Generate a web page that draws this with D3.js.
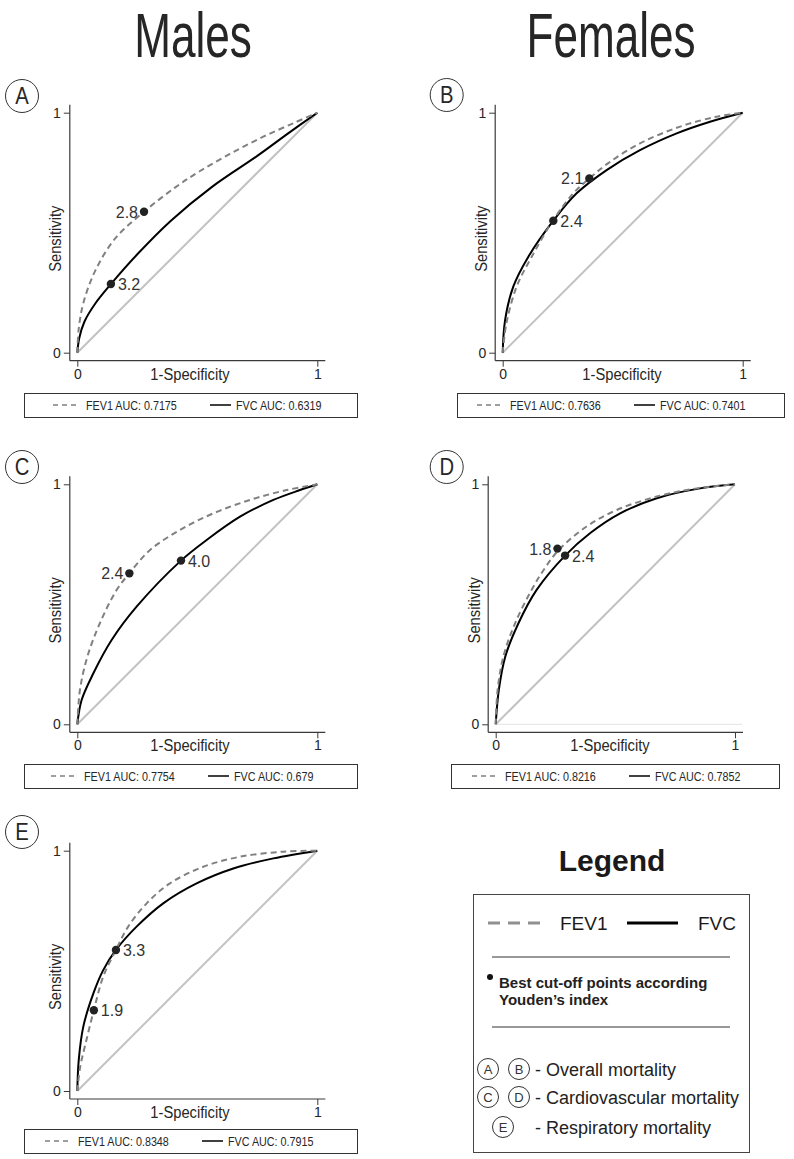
<!DOCTYPE html>
<html><head><meta charset="utf-8">
<script src="https://cdn.jsdelivr.net/npm/d3@7"></script>
<style>
body{margin:0;background:#fff}
svg{display:block}
text{font-family:"Liberation Sans",Arial,Helvetica,sans-serif}
</style>
</head><body>
<svg id="chart" width="794" height="1159"></svg>
<script>
// ---------------- DATA ----------------
const panelIds = ["A", "B", "C", "D", "E"];
const groupTitles = ["Males", "Females"];
const axisTicks = [0, 1];
const xAxisTitle = "1-Specificity";
const yAxisTitle = "Sensitivity";
const seriesNames = ["FEV1", "FVC"];
const aucFEV1 = ["0.7175", "0.7636", "0.7754", "0.8216", "0.8348"];
const aucFVC = ["0.6319", "0.7401", "0.679", "0.7852", "0.7915"];

// ROC curves [1-specificity, sensitivity]
const fev1A = [[0,0],[0.006,0.1],[0.025,0.206],[0.074,0.34],[0.157,0.475],[0.278,0.5875],[0.41,0.69],[0.51,0.756],[0.636,0.828],[0.775,0.9],[0.9,0.956],[1,1]];
const fvcA  = [[0,0],[0.008,0.06],[0.03,0.13],[0.075,0.205],[0.14,0.286],[0.25,0.41],[0.39,0.55],[0.56,0.69],[0.75,0.82],[0.88,0.915],[1,1]];
const fev1B = [[0,0],[0.015,0.12],[0.058,0.275],[0.121,0.4],[0.211,0.553],[0.294,0.664],[0.361,0.726],[0.44,0.79],[0.572,0.872],[0.739,0.942],[0.89,0.983],[1,1]];
const fvcB  = [[0,0],[0.01,0.136],[0.044,0.275],[0.107,0.4],[0.211,0.55],[0.308,0.664],[0.433,0.761],[0.572,0.844],[0.725,0.914],[0.864,0.9625],[1,1]];
const fev1C = [[0,0],[0.011,0.143],[0.042,0.282],[0.094,0.421],[0.164,0.56],[0.217,0.629],[0.303,0.726],[0.428,0.81],[0.567,0.879],[0.72,0.935],[0.872,0.976],[1,1]];
const fvcC  = [[0,0],[0.018,0.101],[0.067,0.2125],[0.143,0.351],[0.247,0.49],[0.432,0.682],[0.539,0.768],[0.678,0.865],[0.817,0.935],[0.928,0.976],[1,1]];
const fev1D = [[0,0],[0.008,0.143],[0.032,0.282],[0.081,0.421],[0.15,0.56],[0.205,0.65],[0.265,0.728],[0.38,0.824],[0.506,0.893],[0.673,0.949],[0.84,0.983],[1,1]];
const fvcD  = [[0,0],[0.013,0.143],[0.04,0.282],[0.095,0.421],[0.171,0.56],[0.29,0.703],[0.394,0.796],[0.52,0.879],[0.673,0.942],[0.854,0.983],[1,1]];
const fev1E = [[0,0],[0.012,0.1],[0.035,0.2],[0.069,0.336],[0.108,0.476],[0.161,0.587],[0.212,0.684],[0.289,0.781],[0.386,0.864],[0.525,0.933],[0.678,0.975],[0.858,0.996],[1,1]];
const fvcE  = [[0,0],[0.006,0.129],[0.025,0.268],[0.067,0.406],[0.108,0.503],[0.161,0.587],[0.247,0.684],[0.358,0.781],[0.497,0.864],[0.65,0.926],[0.817,0.968],[1,1]];

// Best cut-off points (Youden's index)
const cutFEV1 = [[0.278,0.5875],[0.361,0.726],[0.217,0.629],[0.258,0.732],[0.069,0.336]];
const cutFEV1Labels = ["2.8", "2.1", "2.4", "1.8", "1.9"];
const cutFVC = [[0.14,0.286],[0.211,0.55],[0.432,0.682],[0.29,0.703],[0.161,0.587]];
const cutFVCLabels = ["3.2", "2.4", "4.0", "2.4", "3.3"];

// Legend texts
const legendTitle = "Legend";
const legendNote = ["Best cut-off points according", "Youden\u2019s index"];
const mortalityLetters = [["A", "B"], ["C", "D"], ["E"]];
const mortalityLabels = ["- Overall mortality", "- Cardiovascular mortality", "- Respiratory mortality"];

// ---------------- LAYOUT ----------------
const fev1Curves = [fev1A, fev1B, fev1C, fev1D, fev1E];
const fvcCurves = [fvcA, fvcB, fvcC, fvcD, fvcE];
const layout = [
  {x0:77.3, x1:317.3, yT:112.7, yB:352.7, titleX:190, yTitleX:61, circ:[22,96],  box:[24,393,357,417], off:29, fevSide:"left"},
  {x0:502.7,x1:742.7, yT:112.7, yB:352.7, titleX:622, yTitleX:487, circ:[446.7,95], box:[457,393,784,417], off:20, fevSide:"left"},
  {x0:77.3, x1:317.3, yT:484.3, yB:724.3, titleX:190, yTitleX:61, circ:[22,467], box:[24,764,357,788], off:27, fevSide:"left"},
  {x0:495.7,x1:735,   yT:484.3, yB:724.3, titleX:610, yTitleX:480, circ:[446.7,467], box:[451,764,779,788], off:21, fevSide:"left", baseLine:true},
  {x0:77.3, x1:317.3, yT:850.7, yB:1091,  titleX:190, yTitleX:61, circ:[22,832], box:[24,1129,357,1153], off:21, fevSide:"right"}
];

const svg = d3.select("#chart");
svg.append("rect").attr("width",794).attr("height",1159).attr("fill","#fff");

function condense(sel, f) {
  sel.each(function(){
    const w = this.getComputedTextLength();
    d3.select(this).attr("textLength", w * f).attr("lengthAdjust", "spacingAndGlyphs");
  });
  return sel;
}

const AX = "#3a3a3a", TXT = "#262626";

// Titles
condense(svg.append("text").attr("x",193).attr("y",57).attr("text-anchor","middle")
  .attr("font-size",63).attr("fill",TXT).text(groupTitles[0]), 0.7);
condense(svg.append("text").attr("x",611).attr("y",57).attr("text-anchor","middle")
  .attr("font-size",63).attr("fill",TXT).text(groupTitles[1]), 0.7);

panelIds.forEach((id, i) => {
  const L = layout[i];
  const g = svg.append("g");
  const x = d3.scaleLinear().domain([0,1]).range([L.x0, L.x1]);
  const y = d3.scaleLinear().domain([0,1]).range([L.yB, L.yT]);
  const ax = L.x0 - 7.5, ay = L.yB + 8;

  // panel letter circle
  g.append("circle").attr("cx",L.circ[0]).attr("cy",L.circ[1]).attr("r",16.5)
    .attr("fill","none").attr("stroke","#333").attr("stroke-width",1);
  condense(g.append("text").attr("x",L.circ[0]).attr("y",L.circ[1]+8).attr("text-anchor","middle")
    .attr("font-size",23).attr("fill",TXT).text(id), 0.88);

  // axes
  const yAxis = d3.axisLeft(y).tickValues(axisTicks).tickFormat(d3.format("d")).tickSize(6).tickPadding(3);
  const yg = g.append("g").attr("transform",`translate(${ax},0)`).call(yAxis);
  const xAxis = d3.axisBottom(x).tickValues(axisTicks).tickFormat(d3.format("d")).tickSize(6).tickPadding(2);
  const xg = g.append("g").attr("transform",`translate(0,${ay})`).call(xAxis);
  [yg, xg].forEach(a => {
    a.select(".domain").remove();
    a.selectAll(".tick line").attr("stroke",AX);
    a.selectAll(".tick text").attr("font-size",14).attr("fill",TXT).attr("font-family",'"Liberation Sans",Arial,sans-serif');
  });
  g.append("line").attr("x1",ax).attr("x2",ax).attr("y1",L.yT-8).attr("y2",ay).attr("stroke",AX).attr("stroke-width",1.2);
  g.append("line").attr("x1",ax).attr("x2",L.x1+8).attr("y1",ay).attr("y2",ay).attr("stroke",AX).attr("stroke-width",1.2);
  if (L.baseLine) {
    g.append("line").attr("x1",x(0)).attr("x2",x(1)+7).attr("y1",y(0)).attr("y2",y(0)).attr("stroke","#e4e4e4").attr("stroke-width",1);
  }

  // axis titles
  condense(g.append("text").attr("x",L.titleX).attr("y",ay+19).attr("text-anchor","middle")
    .attr("font-size",16).attr("fill",TXT).text(xAxisTitle), 0.92);
  condense(g.append("text").attr("transform",`translate(${L.yTitleX},${(L.yT+L.yB)/2+6}) rotate(-90)`)
    .attr("text-anchor","middle").attr("font-size",16).attr("fill",TXT).text(yAxisTitle), 0.92);

  // reference diagonal
  g.append("line").attr("x1",x(0)).attr("y1",y(0)).attr("x2",x(1)).attr("y2",y(1))
    .attr("stroke","#c2c2c2").attr("stroke-width",2);

  const line = d3.line().x(d => x(d[0])).y(d => y(d[1])).curve(d3.curveCatmullRom.alpha(0.5));
  g.append("path").attr("d", line(fvcCurves[i])).attr("fill","none").attr("stroke","#000").attr("stroke-width",2);
  g.append("path").attr("d", line(fev1Curves[i])).attr("fill","none").attr("stroke","#808080")
    .attr("stroke-width",2).attr("stroke-dasharray","6,4");

  // cut-off points
  const pts = [
    {p: cutFEV1[i], lab: cutFEV1Labels[i], side: L.fevSide},
    {p: cutFVC[i], lab: cutFVCLabels[i], side: "right"}
  ];
  pts.forEach(c => {
    g.append("circle").attr("cx",x(c.p[0])).attr("cy",y(c.p[1])).attr("r",4.2).attr("fill","#222");
    g.append("text").attr("x", x(c.p[0]) + (c.side === "left" ? -6 : 7)).attr("y", y(c.p[1]) + 6)
      .attr("text-anchor", c.side === "left" ? "end" : "start")
      .attr("font-size",16).attr("fill","#333").text(c.lab);
  });

  // AUC legend box
  const b = L.box, cy = (b[1]+b[3])/2;
  g.append("rect").attr("x",b[0]+0.5).attr("y",b[1]+0.5).attr("width",b[2]-b[0]).attr("height",b[3]-b[1])
    .attr("fill","#fff").attr("stroke","#333").attr("stroke-width",1);
  const s0 = b[0] + L.off;
  g.append("line").attr("x1",s0).attr("x2",s0+25).attr("y1",cy).attr("y2",cy)
    .attr("stroke","#808080").attr("stroke-width",1.5).attr("stroke-dasharray","5,4");
  condense(g.append("text").attr("x",s0+33).attr("y",cy+4.5).attr("font-size",12.5).attr("fill",TXT)
    .text(`${seriesNames[0]} AUC: ${aucFEV1[i]}`), 0.86);
  g.append("line").attr("x1",s0+157).attr("x2",s0+178).attr("y1",cy).attr("y2",cy)
    .attr("stroke","#000").attr("stroke-width",1.5);
  condense(g.append("text").attr("x",s0+183).attr("y",cy+4.5).attr("font-size",12.5).attr("fill",TXT)
    .text(`${seriesNames[1]} AUC: ${aucFVC[i]}`), 0.86);
});

// ---------------- Main legend ----------------
const lg = svg.append("g");
lg.append("text").attr("x",612).attr("y",871).attr("text-anchor","middle").attr("font-size",30)
  .attr("font-weight","bold").attr("fill","#1a1a1a").text(legendTitle);
lg.append("rect").attr("x",473.5).attr("y",894.5).attr("width",276).attr("height",258)
  .attr("fill","none").attr("stroke","#444").attr("stroke-width",1);
lg.append("line").attr("x1",488).attr("x2",540).attr("y1",923).attr("y2",923)
  .attr("stroke","#909090").attr("stroke-width",3).attr("stroke-dasharray","12,8");
lg.append("text").attr("x",560).attr("y",930).attr("font-size",19).attr("fill","#1a1a1a").text(seriesNames[0]);
lg.append("line").attr("x1",627).attr("x2",678).attr("y1",923).attr("y2",923)
  .attr("stroke","#000").attr("stroke-width",3);
lg.append("text").attr("x",698).attr("y",930).attr("font-size",19).attr("fill","#1a1a1a").text(seriesNames[1]);
lg.append("line").attr("x1",492).attr("x2",730).attr("y1",957).attr("y2",957).attr("stroke","#333").attr("stroke-width",1);
lg.append("circle").attr("cx",490).attr("cy",977).attr("r",3).attr("fill","#111");
legendNote.forEach((t, k) => {
  lg.append("text").attr("x",499).attr("y",988 + k*17).attr("font-size",15).attr("font-weight","bold")
    .attr("fill","#222").text(t);
});
lg.append("line").attr("x1",492).attr("x2",730).attr("y1",1027).attr("y2",1027).attr("stroke","#333").attr("stroke-width",1);
const rowY = [1069, 1097, 1127];
const rowCx = [[488, 519], [488, 519], [503]];
mortalityLabels.forEach((t, k) => {
  mortalityLetters[k].forEach((l, j) => {
    lg.append("circle").attr("cx",rowCx[k][j]).attr("cy",rowY[k]).attr("r",10.5)
      .attr("fill","none").attr("stroke","#333").attr("stroke-width",1);
    lg.append("text").attr("x",rowCx[k][j]).attr("y",rowY[k]+5).attr("text-anchor","middle")
      .attr("font-size",13).attr("fill","#333").text(l);
  });
  lg.append("text").attr("x",535).attr("y",rowY[k]+7).attr("font-size",18).attr("fill","#222").text(t);
});
</script>
</body></html>
